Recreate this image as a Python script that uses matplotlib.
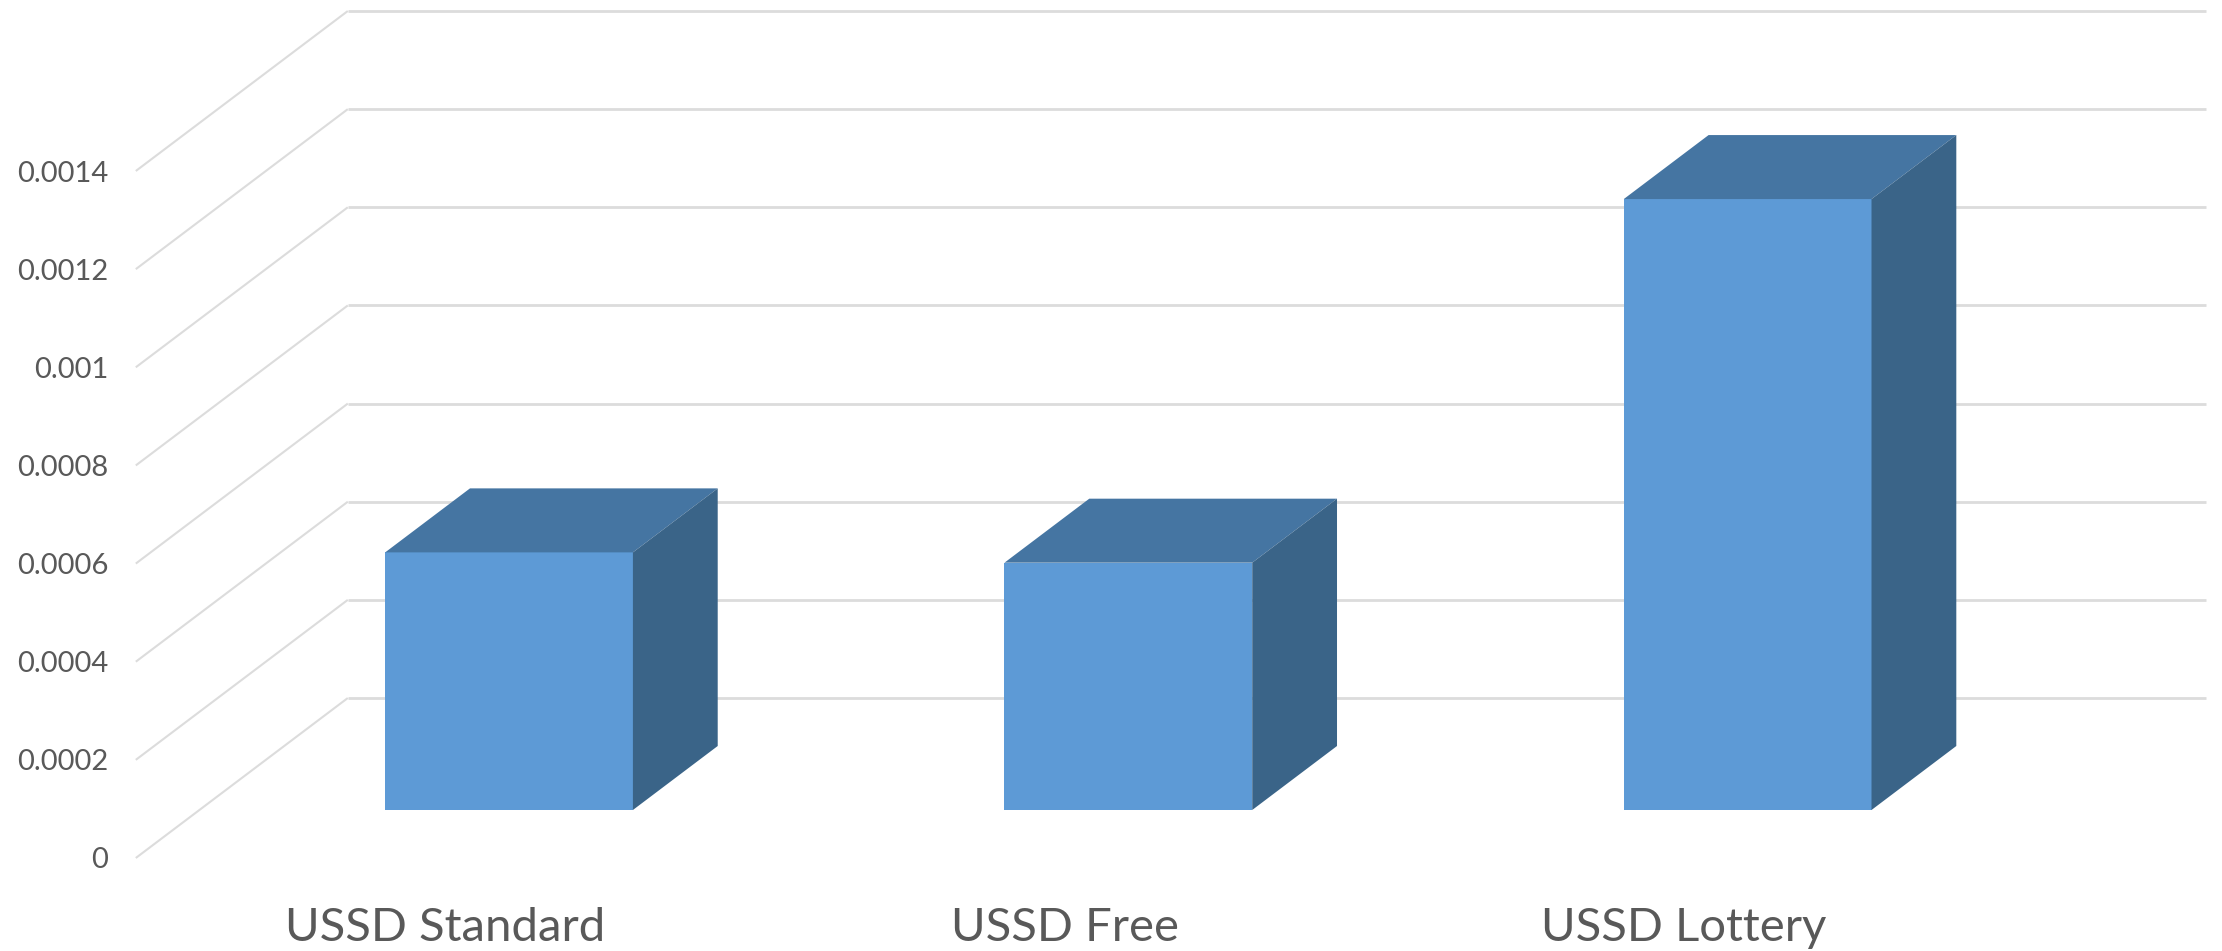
import numpy as np
import matplotlib
matplotlib.use("Agg")
import matplotlib.pyplot as plt
from matplotlib.transforms import IdentityTransform

plt.rcParams['font.family'] = ['Lato', 'DejaVu Sans']

# values
categories = ["USSD Standard", "USSD Free", "USSD Lottery"]
values = [0.000525, 0.000504, 0.001245]
y_ticks = [0, 0.0002, 0.0004, 0.0006, 0.0008, 0.001, 0.0012, 0.0014]
y_labels = ["0", "0.0002", "0.0004", "0.0006", "0.0008", "0.001", "0.0012", "0.0014"]

W, H = 2222, 951
DEPTH_X, DEPTH_Y = 212, 160   # pixels from front plane to back wall
BAR_W = 0.4
D_FRONT, D_BACK = 0.3, 0.7

FRONT = "#5D9AD6"
TOP = "#4575A2"
SIDE = "#3A6488"
GRID = "#DCDCDC"
TEXT = "#595959"

fig = plt.figure(figsize=(W / 100, H / 100), dpi=100, facecolor="white")
ax = fig.add_axes([135.8 / W, (H - 858) / H, (1993.7 - 135.8) / W, (858 - 171) / H])
ax.set_xlim(-0.5, 2.5)
ax.set_ylim(0, 0.0014)
for s in ax.spines.values():
    s.set_visible(False)
ax.patch.set_visible(False)


# oblique projection on top of the axes scales, result in pixels
def proj(x, v, d):
    px = ax.transData.transform((x, v))
    return px[0] + d * DEPTH_X, px[1] + d * DEPTH_Y


def line(pts, lw):
    xs, ys = zip(*pts)
    ax.plot(xs, ys, color=GRID, lw=lw, transform=IdentityTransform(),
            clip_on=False, zorder=1, solid_capstyle="butt")


def face(pts, color):
    xs, ys = zip(*pts)
    ax.fill(xs, ys, color=color, lw=0, transform=IdentityTransform(),
            clip_on=False, zorder=2)


# gridlines on the side and back wall
for t in y_ticks:
    line([proj(-0.5, t, 0), proj(-0.5, t, 1)], 1.5)
    line([proj(-0.5, t, 1), proj(2.5, t, 1)], 2.0)

for i, v in enumerate(values):
    x0, x1 = i - BAR_W / 2, i + BAR_W / 2
    face([proj(x0, 0, D_FRONT), proj(x1, 0, D_FRONT), proj(x1, v, D_FRONT), proj(x0, v, D_FRONT)], FRONT)
    face([proj(x0, v, D_FRONT), proj(x1, v, D_FRONT), proj(x1, v, D_BACK), proj(x0, v, D_BACK)], TOP)
    face([proj(x1, 0, D_FRONT), proj(x1, 0, D_BACK), proj(x1, v, D_BACK), proj(x1, v, D_FRONT)], SIDE)

ax.set_xticks(range(len(categories)))
ax.set_xticklabels(categories, fontsize=34, color=TEXT)
ax.set_yticks(y_ticks)
ax.set_yticklabels(y_labels, fontsize=21, color=TEXT)
ax.tick_params(axis="x", length=0, pad=35)
ax.tick_params(axis="y", length=0, pad=20)

fig.savefig("out.png", dpi=100)
